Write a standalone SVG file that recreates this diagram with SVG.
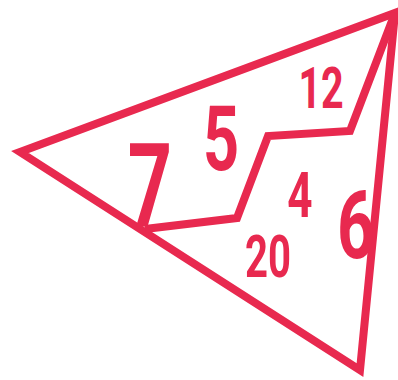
<svg xmlns="http://www.w3.org/2000/svg" width="398" height="380" viewBox="0 0 398 380">
<style>
.ln{fill:none;stroke:#E8294F;stroke-width:8;stroke-linejoin:miter;stroke-miterlimit:10}
.num{fill:#E8294F;font-family:Roboto,"Liberation Sans",sans-serif;font-weight:700;text-anchor:middle}
</style>
<rect width="398" height="380" fill="#fff"/>
<g id="connectors">
<path class="ln" d="M20,152 L395,13 L360,370 Z"/>
<path class="ln" d="M145,229 L237,218 L268,136 L350,131 L395,13"/>
</g>
<g id="n7"><text class="num" font-size="117" transform="translate(150,226) scale(0.66,1)">7</text></g>
<g id="n5"><text class="num" font-size="90" transform="translate(221,170) scale(0.7,1)">5</text></g>
<g id="n12"><text class="num" font-size="58" transform="translate(321,108) scale(0.68,1)">12</text></g>
<g id="n4"><text class="num" font-size="63" transform="translate(300,217) scale(0.7,1)">4</text></g>
<g id="n20"><text class="num" font-size="59" transform="translate(268,277) scale(0.68,1)">20</text></g>
<g id="n6"><text class="num" font-size="95" transform="translate(356,258) scale(0.7,1)">6</text></g>
</svg>
